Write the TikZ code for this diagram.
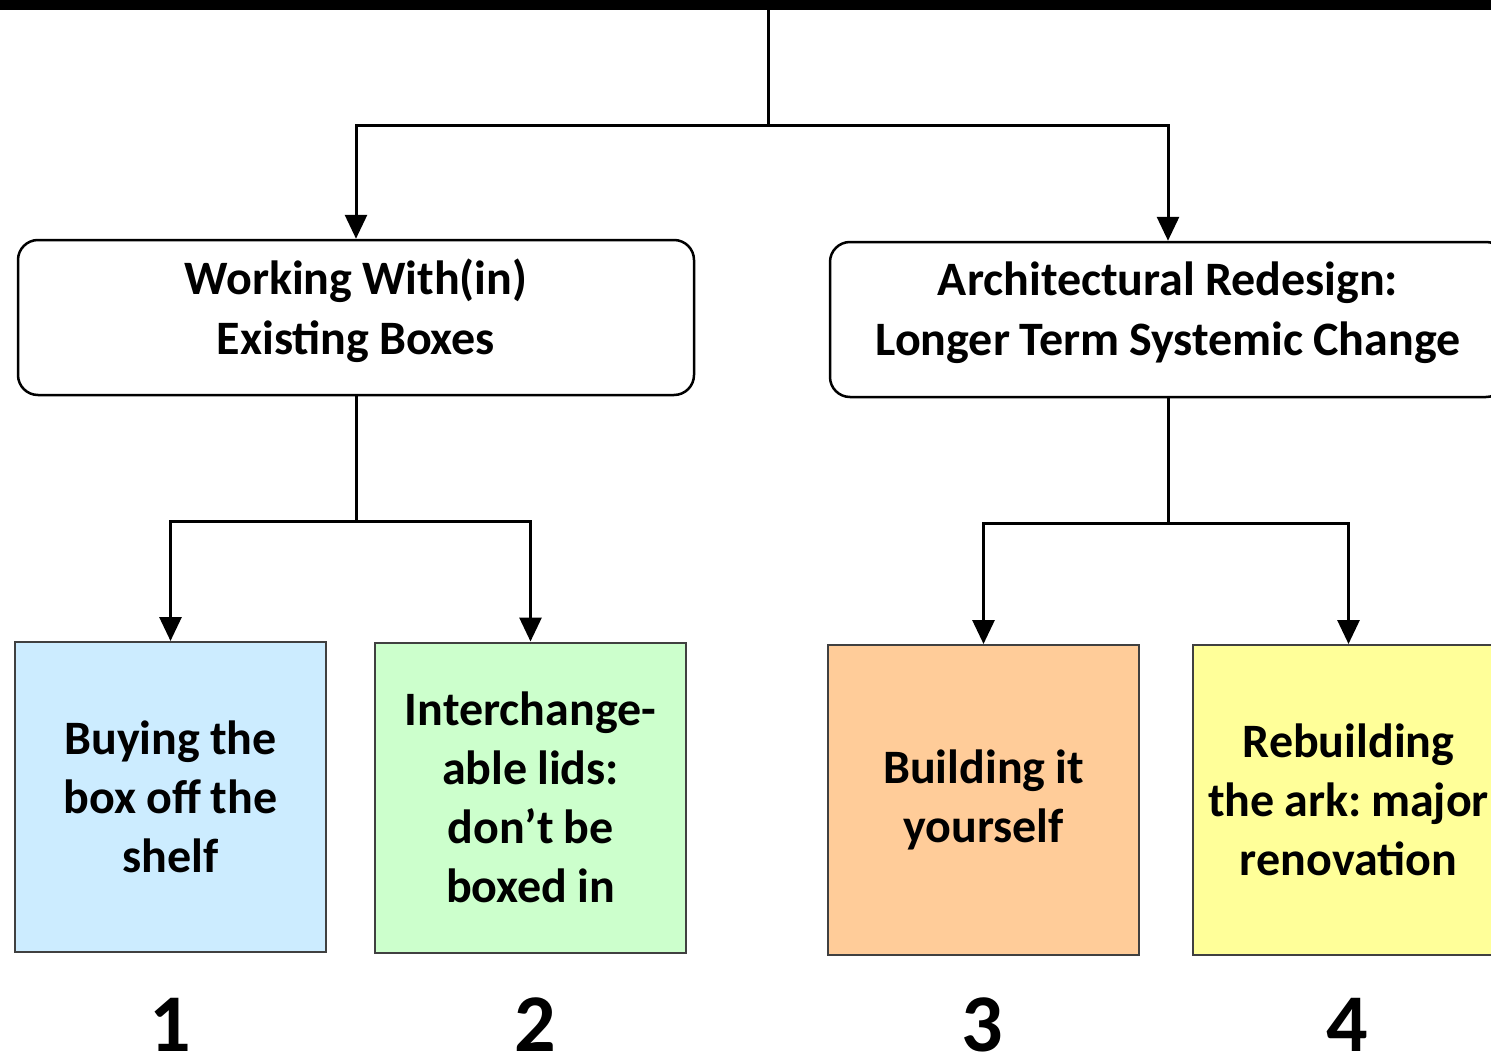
\documentclass[tikz,border=0pt]{standalone}
\usepackage{fontspec}
\setmainfont{Carlito}[WordSpace=0.9]
\usepackage{xcolor}
\usepackage{tikz}
\usetikzlibrary{arrows.meta}
\definecolor{Sky}{HTML}{CCECFF}
\definecolor{Mint}{HTML}{CCFFCC}
\definecolor{Peach}{HTML}{FFCC99}
\definecolor{Lemon}{HTML}{FFFF99}
\definecolor{Edge}{HTML}{404040}
\frenchspacing

\begin{document}
\begin{tikzpicture}[x=1pt,y=-1pt,
  conn/.style={line width=3pt,-{Triangle[width=22pt,length=24pt]}},
  groupbox/.style={draw,line width=2.5pt,rounded corners=20pt,minimum width=676pt,minimum height=155pt,text depth=21pt,align=center,font=\fontsize{48}{60}\selectfont\bfseries},
  leafbox/.style={draw=Edge,line width=2pt,minimum width=311pt,minimum height=310pt,text width=305pt,inner sep=0pt,align=flush center,font=\fontsize{48}{59}\selectfont\bfseries},
  numlbl/.style={anchor=base,font=\fontsize{82}{90}\selectfont\bfseries}]
\useasboundingbox (0,0) rectangle (1491,1057);
% top box, only its lower edge shows
\fill[black] (-20,-20) rectangle (1511,10);
\coordinate (root) at (768,10);
% two approaches
\node[groupbox] (within) at (356,317.5) {Working With(in)\\Existing Boxes};
\node[groupbox] (redesign) at (1168,319.5) {Architectural Redesign:\\Longer Term Systemic Change};
% four options
\node[leafbox,fill=Sky] (shelf) at (170.5,797) {Buying the\\box off the\\shelf};
\node[leafbox,fill=Mint] (lids) at (530.5,797.5) {Interchange-\\able lids:\\don’t be\\boxed in};
\node[leafbox,fill=Peach] (build) at (983.5,800) {Building it\\yourself};
\node[leafbox,fill=Lemon] (ark) at (1348.5,800) {Rebuilding\\the ark: major\\renovation};
\node[numlbl] (n1) at (170,1051) {1};
\node[numlbl] (n2) at (535,1051) {2};
\node[numlbl] (n3) at (982,1051) {3};
\node[numlbl] (n4) at (1347,1051) {4};
% connectors
\draw[conn] (root) -- ++(0,115) -| (within.north);
\draw[conn] (root) -- ++(0,115) -| (redesign.north);
\draw[conn] (within.south) -- ++(0,125) -| (shelf.north);
\draw[conn] (within.south) -- ++(0,125) -| (lids.north);
\draw[conn] (redesign.south) -- ++(0,125) -| (build.north);
\draw[conn] (redesign.south) -- ++(0,125) -| (ark.north);
\end{tikzpicture}
\end{document}
